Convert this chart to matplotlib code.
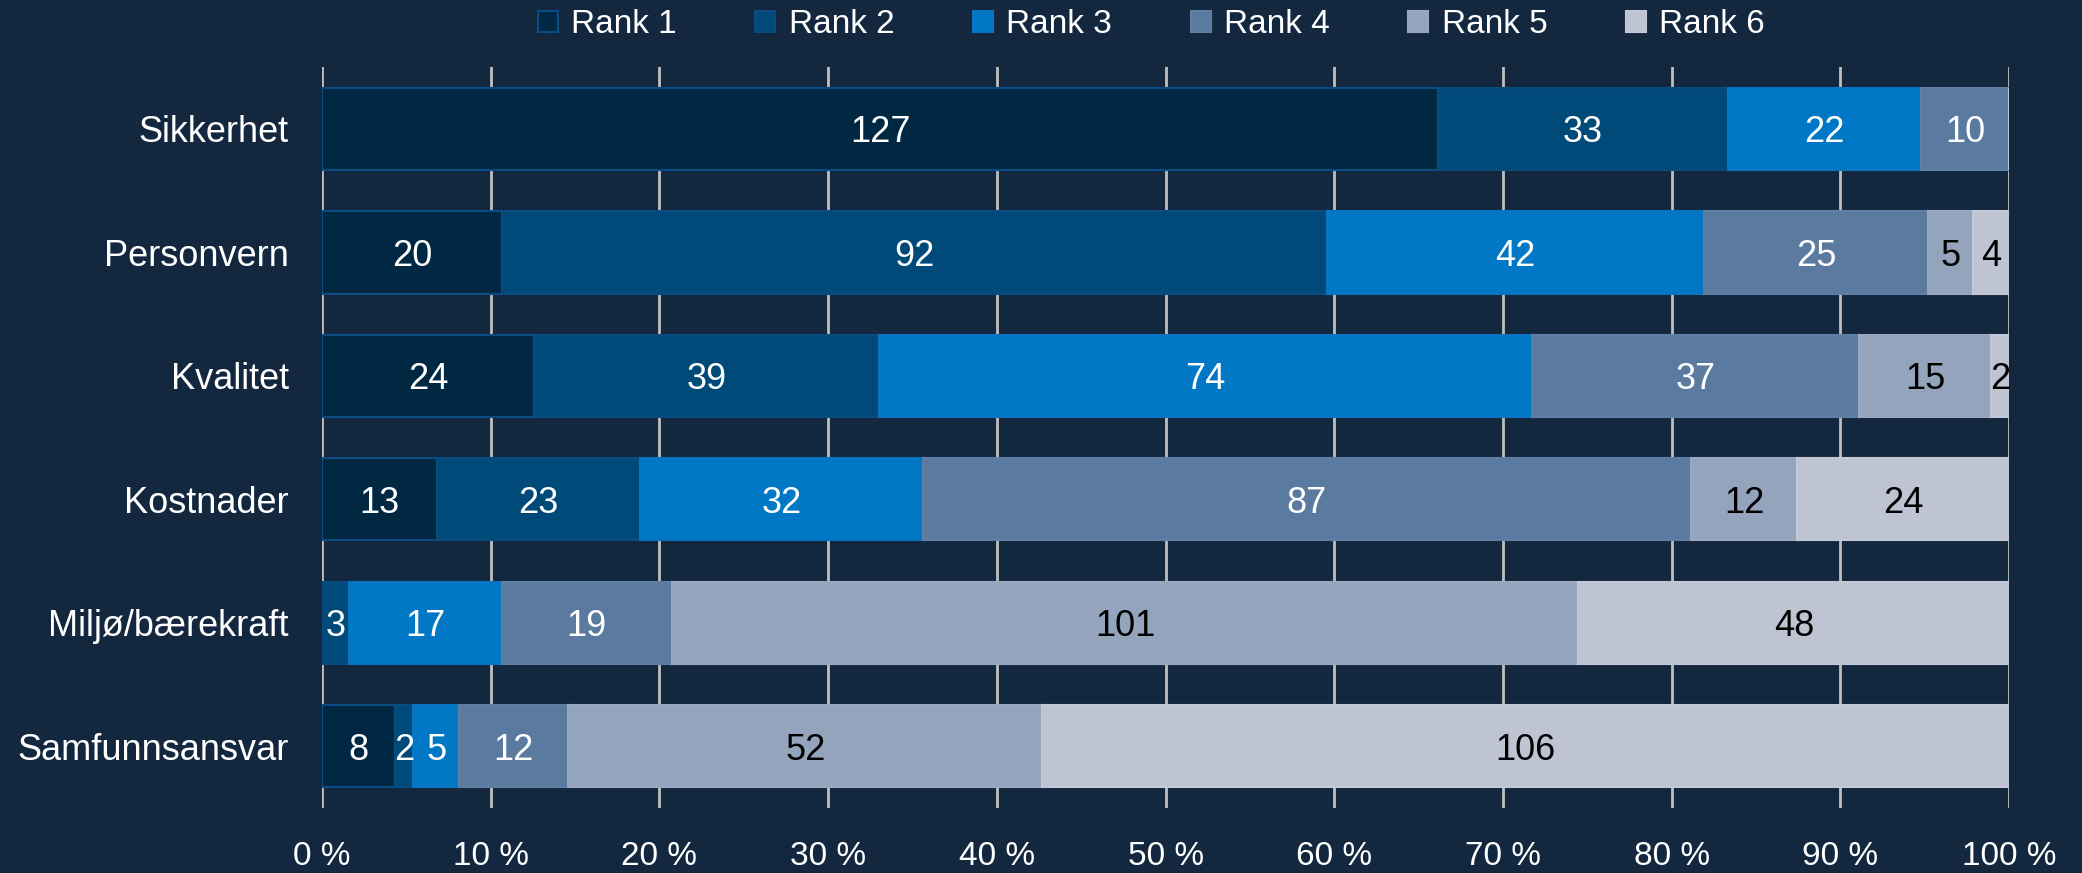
import matplotlib
matplotlib.use("Agg")
import matplotlib.pyplot as plt
import numpy as np

categories = ["Sikkerhet", "Personvern", "Kvalitet", "Kostnader", "Miljø/bærekraft", "Samfunnsansvar"]
series_names = ["Rank 1", "Rank 2", "Rank 3", "Rank 4", "Rank 5", "Rank 6"]
rank1 = [127, 20, 24, 13, 0, 8]
rank2 = [33, 92, 39, 23, 3, 2]
rank3 = [22, 42, 74, 32, 17, 5]
rank4 = [10, 25, 37, 87, 19, 12]
rank5 = [0, 5, 15, 12, 101, 52]
rank6 = [0, 4, 2, 24, 48, 106]
xtick_labels = ["0 %", "10 %", "20 %", "30 %", "40 %", "50 %", "60 %", "70 %", "80 %", "90 %", "100 %"]

colors = ["#002842", "#004A7A", "#0078C6", "#5A7AA0", "#94A4BC", "#BEC4D2"]
edges = ["#0B4C85", "#0B4C80", "#0A74BE", "#5E7EA4", "#98A8C0", "#C2C8D6"]
text_colors = ["white", "white", "white", "white", "black", "black"]
bg = "#13273F"

plt.rcParams['font.family'] = ['Liberation Sans', 'DejaVu Sans']

fig = plt.figure(figsize=(20.82, 8.73), dpi=100, facecolor=bg)
ax = fig.add_axes([0.1547, 0.0745, 0.965 - 0.1547, 0.923 - 0.0745])
ax.set_facecolor(bg)

data = np.array([rank1, rank2, rank3, rank4, rank5, rank6], dtype=float)
totals = data.sum(axis=0)
shares = data / totals
y = np.arange(len(categories))

left = np.zeros(len(categories))
for i in range(6):
    ax.barh(y, shares[i], left=left, height=0.667, color=colors[i],
            edgecolor=edges[i], linewidth=1.5, label=series_names[i], zorder=3)
    for j in range(len(categories)):
        v = data[i, j]
        if v > 0:
            ax.text(left[j] + shares[i, j] / 2, y[j], f"{int(v)}", ha="center",
                    va="center_baseline", color=text_colors[i], fontsize=26, zorder=4)
    left += shares[i]

ax.set_xlim(0, 1)
ax.set_ylim(5.5, -0.5)
ax.set_xticks(np.linspace(0, 1, 11))
ax.set_xticklabels(xtick_labels)
ax.set_yticks(y)
ax.set_yticklabels(categories)
ax.tick_params(axis="x", length=0, pad=24, labelsize=24, colors="white")
ax.tick_params(axis="y", length=0, pad=24, labelsize=26, colors="white")
ax.grid(axis="x", color="#BFBFBF", linewidth=2, zorder=1)
for s in ax.spines.values():
    s.set_visible(False)

fig.legend(loc="center", bbox_to_anchor=(0.553, 0.972), ncol=6, frameon=False,
           fontsize=24, handlelength=0.6, handleheight=0.6, handletextpad=0.4,
           columnspacing=2.36, labelcolor="white")

fig.savefig("out.png", dpi=100, facecolor=bg)
